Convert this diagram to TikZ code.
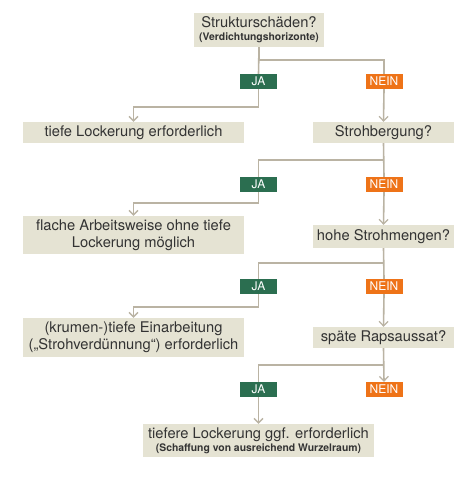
\documentclass[tikz,border=0pt]{standalone}
\usepackage{fontspec}
\setmainfont{TeX Gyre Heros}
\usetikzlibrary{arrows.meta,backgrounds}
\definecolor{boxfill}{HTML}{E5E3D3}
\definecolor{linec}{HTML}{BAB3A3}
\definecolor{jagreen}{HTML}{2B6E50}
\definecolor{neinorange}{HTML}{EE7318}
\definecolor{txt}{HTML}{333333}
\newcommand{\subtxt}[1]{{\fontsize{10.4}{11}\selectfont\bfseries #1}}
\tikzset{
  box/.style={fill=boxfill, inner sep=0pt, text=txt, font=\fontsize{14.7}{17}\selectfont, align=center},
  ja/.style={fill=jagreen, text=white, minimum width=37pt, minimum height=15pt, inner sep=0pt, font=\fontsize{12}{12}\selectfont},
  nein/.style={fill=neinorange, text=white, minimum width=37pt, minimum height=15pt, inner sep=0pt, font=\fontsize{12}{12}\selectfont},
  conn/.style={draw=linec, line width=1.6pt},
  arr/.style={-{Straight Barb[length=4.5pt,width=9pt,line width=1.3pt]}}
}
\begin{document}
\begin{tikzpicture}[x=1pt,y=-1pt]
\useasboundingbox (0,0) rectangle (465,478);
% question boxes
\node[box, minimum width=130pt, minimum height=34pt] (q1) at (259,30) {Strukturschäden?\\[-4pt]\subtxt{(Verdichtungshorizonte)}};
\node[box, minimum width=141pt, minimum height=21pt] (r1) at (383.5,132.5) {Strohbergung?};
\node[box, minimum width=141pt, minimum height=23pt] (r2) at (383.5,236.5) {hohe Strohmengen?};
\node[box, minimum width=141pt, minimum height=21pt] (r3) at (383.5,337.5) {späte Rapsaussat?};
% result boxes
\node[box, minimum width=221pt, minimum height=21pt] (l1) at (133.5,132.5) {tiefe Lockerung erforderlich};
\node[box, minimum width=221pt, minimum height=38pt] (l2) at (133.5,235) {flache Arbeitsweise ohne tiefe\\Lockerung möglich};
\node[box, minimum width=221pt, minimum height=39pt] (l3) at (133.5,337.5) {(krumen-)tiefe Einarbeitung\\(„Strohverdünnung“) erforderlich};
\node[box, minimum width=231pt, minimum height=33pt] (b) at (258.5,440.5) {tiefere Lockerung ggf. erforderlich\\[-4pt]\subtxt{(Schaffung von ausreichend Wurzelraum)}};
% labels
\node[ja] (ja1) at (258.5,81.5) {JA};
\node[nein] (n1) at (384,81.5) {NEIN};
\node[ja] (ja2) at (258.5,184.5) {JA};
\node[nein] (n2) at (384,184.5) {NEIN};
\node[ja] (ja3) at (258.5,286.5) {JA};
\node[nein] (n3) at (384,286.5) {NEIN};
\node[ja] (ja4) at (258.5,389.5) {JA};
\node[nein] (n4) at (384,389.5) {NEIN};
\begin{pgfonlayer}{background}
% level 1
\draw[conn] (q1.south) -- (ja1.north);
\draw[conn] (q1.south) -- ++(0,13) -| (n1.north);
\draw[conn,arr] (ja1.south) -- ++(0,18) -| (l1.north);
\draw[conn,arr] (n1.south) -- (r1.north);
% level 2
\draw[conn] (r1.south) -- ++(0,17) -| (ja2.north);
\draw[conn] (r1.south) -- (n2.north);
\draw[conn,arr] (ja2.south) -- ++(0,11) -| (l2.north);
\draw[conn,arr] (n2.south) -- (r2.north);
% level 3
\draw[conn] (r2.south) -- ++(0,15) -| (ja3.north);
\draw[conn] (r2.south) -- (n3.north);
\draw[conn,arr] (ja3.south) -- ++(0,13) -| (l3.north);
\draw[conn,arr] (n3.south) -- (r3.north);
% level 4
\draw[conn] (r3.south) -- ++(0,17) -| (ja4.north);
\draw[conn,arr] (r3.south) -- (n4.north);
\draw[conn,arr] (ja4.south) -- (b.north);
\end{pgfonlayer}
\end{tikzpicture}
\end{document}
